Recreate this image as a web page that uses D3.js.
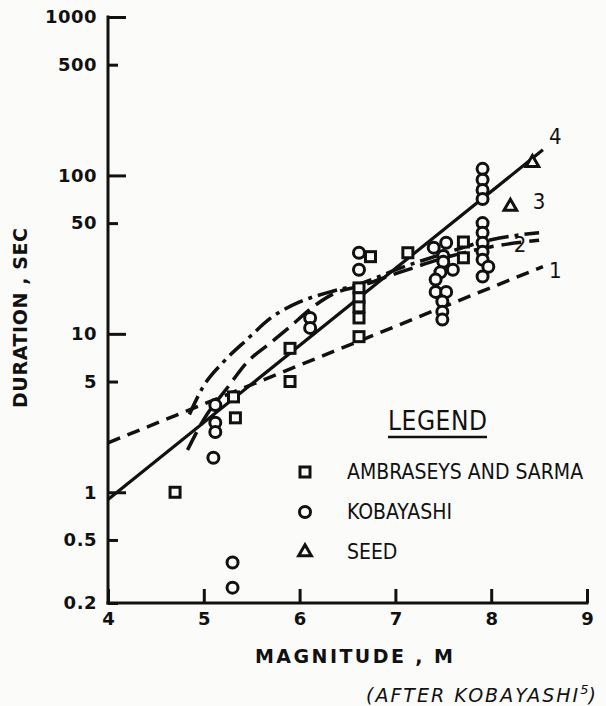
<!DOCTYPE html>
<html>
<head>
<meta charset="utf-8">
<script src="https://cdn.jsdelivr.net/npm/d3@7"></script>
<style>
  html, body { margin: 0; padding: 0; background: #fbfbfa; }
  svg { display: block; }
</style>
</head>
<body>
<script>
// ---------- DATA ----------
const magTicks = [4, 5, 6, 7, 8, 9];
const magTickLabels = ["4", "5", "6", "7", "8", "9"];
const durTicks = [0.2, 0.5, 1, 5, 10, 50, 100, 500, 1000];
const durTickLabels = ["0.2", "0.5", "1", "5", "10", "50", "100", "500", "1000"];
const durMajor = [1, 10, 100, 1000];

// Ambraseys and Sarma (squares): [magnitude, duration]
const ambraseys = [
  [4.70, 1.0], [5.31, 4.0], [5.33, 2.95], [5.90, 8.1], [5.90, 5.0],
  [6.62, 19.5], [6.62, 16.9], [6.62, 14.8], [6.62, 12.6], [6.62, 9.6],
  [6.74, 30.7], [7.13, 32.5], [7.71, 38], [7.71, 30.2]
];
// Kobayashi (circles)
const kobayashi = [
  [5.12, 3.55], [5.12, 2.75], [5.12, 2.4], [5.10, 1.65], [5.30, 0.36], [5.30, 0.25],
  [6.11, 12.6], [6.11, 10.9], [6.62, 32.5], [6.62, 25.4],
  [7.40, 35], [7.53, 37.6], [7.50, 31], [7.50, 28.5], [7.47, 24.5], [7.60, 25.4],
  [7.42, 22], [7.42, 18.4], [7.53, 18.4], [7.49, 16], [7.49, 13.8], [7.49, 12.3],
  [7.91, 110], [7.91, 94], [7.91, 81], [7.91, 71],
  [7.91, 50], [7.91, 43.5], [7.91, 37.6], [7.91, 33], [7.91, 29.4], [7.97, 26.5], [7.91, 23]
];
// Seed (triangles)
const seed = [[8.20, 63.5], [8.43, 120]];

// Relationship curves
const curve1 = [[4.0, 2.05], [8.54, 26.6]];                       // dashed
const curve2 = [[4.83, 1.85], [5.01, 2.95], [5.25, 4.6], [5.45, 6.6], [5.70, 8.8],
                [5.90, 11.1], [6.14, 14.8], [6.40, 18.4], [6.60, 19.8], [7.05, 24.5],
                [7.58, 31], [8.0, 35.5], [8.5, 39]];                // long dash
const curve3 = [[4.85, 3.1], [4.99, 4.6], [5.20, 6.6], [5.45, 9.2], [5.70, 12.6],
                [6.00, 15.9], [6.32, 18.4], [6.60, 20.4], [7.05, 26], [7.47, 31.6],
                [8.0, 39.3], [8.5, 43.5]];                          // dash-dot
const curve4 = [[4.0, 0.9], [8.54, 145]];                          // solid

const curveLabels = [
  { text: "1", at: [8.67, 22.5] },
  { text: "2", at: [8.3, 33] },
  { text: "3", at: [8.5, 61] },
  { text: "4", at: [8.67, 158] }
];

const legendTitle = "LEGEND";
const legendItems = ["AMBRASEYS AND SARMA", "KOBAYASHI", "SEED"];

// ---------- CHART ----------
const W = 606, H = 706;
const ink = "#111";
const bg = "#fbfbfa";
const svg = d3.select("body").append("svg").attr("width", W).attr("height", H);

const x = d3.scaleLinear().domain([4, 9]).range([108, 587]);
const y = d3.scaleLog().domain([0.2, 1000]).range([603, 17]);

const boldFont = "'DejaVu Sans', sans-serif";
const narrowFont = "'Liberation Sans Narrow', 'DejaVu Sans Condensed', 'Liberation Sans', sans-serif";

// Y axis
const yAxis = d3.axisLeft(y).tickValues(durTicks)
  .tickFormat((d, i) => durTickLabels[i]).tickSizeInner(-10).tickSizeOuter(0).tickPadding(11);
const gy = svg.append("g").attr("transform", `translate(${x(4)},0)`).call(yAxis);
gy.select(".domain").attr("stroke", ink).attr("stroke-width", 3)
  .attr("d", `M0,${y(1000) - 1.5}V${y(0.2) + 1.5}`);
gy.selectAll(".tick line").attr("stroke", ink).attr("stroke-width", 3)
  .attr("x2", d => durMajor.includes(d) ? 18 : 10);
gy.selectAll(".tick text").attr("fill", ink).attr("font-family", boldFont)
  .attr("font-weight", "bold").attr("font-size", 18).attr("letter-spacing", 0.5);

// X axis
const xAxis = d3.axisBottom(x).tickValues(magTicks)
  .tickFormat((d, i) => magTickLabels[i]).tickSizeInner(-14).tickSizeOuter(0).tickPadding(9);
const gx = svg.append("g").attr("transform", `translate(0,${y(0.2)})`).call(xAxis);
gx.select(".domain").attr("stroke", ink).attr("stroke-width", 3)
  .attr("d", `M${x(4) - 1.5},0H${x(9) + 1.5}`);
gx.selectAll(".tick line").attr("stroke", ink).attr("stroke-width", 3);
gx.selectAll(".tick text").attr("fill", ink).attr("font-family", boldFont)
  .attr("font-weight", "bold").attr("font-size", 18);

// Axis titles
svg.append("text").attr("transform", `translate(27,${318}) rotate(-90)`)
  .attr("text-anchor", "middle").attr("font-family", boldFont).attr("font-weight", "bold")
  .attr("font-size", 19).attr("fill", ink).attr("textLength", 180).attr("lengthAdjust", "spacing")
  .text("DURATION , SEC");
svg.append("text").attr("x", 354).attr("y", 663)
  .attr("text-anchor", "middle").attr("font-family", boldFont).attr("font-weight", "bold")
  .attr("font-size", 19).attr("fill", ink).attr("textLength", 198).attr("lengthAdjust", "spacing")
  .text("MAGNITUDE ,  M");
const credit = svg.append("text").attr("x", 366).attr("y", 702)
  .attr("font-family", boldFont).attr("font-style", "italic")
  .attr("font-size", 19).attr("fill", ink).attr("letter-spacing", 2);
credit.append("tspan").text("(AFTER KOBAYASHI");
credit.append("tspan").attr("font-size", 13).attr("dy", -8).attr("letter-spacing", 0).text("5");
credit.append("tspan").attr("dy", 8).text(")");

// Curves
const line = d3.line().x(d => x(d[0])).y(d => y(d[1]));
const smooth = d3.line().x(d => x(d[0])).y(d => y(d[1])).curve(d3.curveMonotoneX);
const curves = svg.append("g").attr("fill", "none").attr("stroke", ink).attr("stroke-linecap", "butt");
curves.append("path").datum(curve1).attr("d", line).attr("stroke-width", 3.5).attr("stroke-dasharray", "13 8");
curves.append("path").datum(curve2).attr("d", smooth).attr("stroke-width", 3.5).attr("stroke-dasharray", "20 8");
curves.append("path").datum(curve3).attr("d", smooth).attr("stroke-width", 3.5).attr("stroke-dasharray", "20 6 4 6");
curves.append("path").datum(curve4).attr("d", line).attr("stroke-width", 3.2);

svg.append("g").selectAll("text").data(curveLabels).join("text")
  .attr("x", d => x(d.at[0])).attr("y", d => y(d.at[1]))
  .attr("text-anchor", "middle").attr("font-family", narrowFont).attr("font-size", 22)
  .attr("fill", ink).text(d => d.text);

// Markers
const mk = svg.append("g").attr("fill", bg).attr("stroke", ink).attr("stroke-width", 3);
const sq = 10;
mk.selectAll("rect.a").data(ambraseys).join("rect").attr("class", "a")
  .attr("x", d => x(d[0]) - sq / 2).attr("y", d => y(d[1]) - sq / 2)
  .attr("width", sq).attr("height", sq);
mk.selectAll("circle.k").data(kobayashi).join("circle").attr("class", "k")
  .attr("cx", d => x(d[0])).attr("cy", d => y(d[1])).attr("r", 5.5);
const tri = d3.symbol().type(d3.symbolTriangle).size(70);
mk.selectAll("path.s").data(seed).join("path").attr("class", "s")
  .attr("transform", d => `translate(${x(d[0])},${y(d[1])})`).attr("d", tri);

// Legend
const lg = svg.append("g");
lg.append("text").attr("x", 388).attr("y", 430).attr("font-family", narrowFont)
  .attr("font-size", 26).attr("fill", ink).attr("textLength", 99).attr("lengthAdjust", "spacing")
  .text(legendTitle);
lg.append("line").attr("x1", 388).attr("x2", 487).attr("y1", 437).attr("y2", 437)
  .attr("stroke", ink).attr("stroke-width", 2.5);
const rowY = [472, 512, 552];
const lmk = lg.append("g").attr("fill", "none").attr("stroke", ink).attr("stroke-width", 3);
lmk.append("rect").attr("x", 305 - sq / 2).attr("y", rowY[0] - sq / 2).attr("width", sq).attr("height", sq);
lmk.append("circle").attr("cx", 305).attr("cy", rowY[1]).attr("r", 5.5);
lmk.append("path").attr("transform", `translate(305,${rowY[2]})`).attr("d", tri);
lg.selectAll("text.item").data(legendItems).join("text").attr("class", "item")
  .attr("x", 347).attr("y", (d, i) => rowY[i] + 7).attr("font-family", narrowFont)
  .attr("font-size", 21).attr("fill", ink).text(d => d);
</script>
</body>
</html>
